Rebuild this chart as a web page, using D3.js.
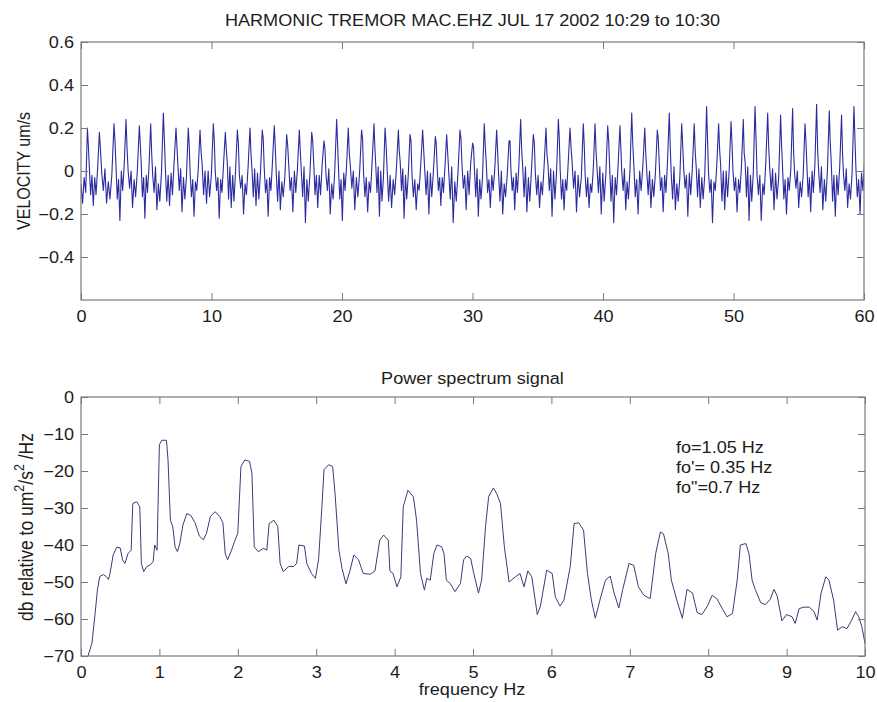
<!DOCTYPE html>
<html>
<head>
<meta charset="utf-8">
<script src="https://cdn.jsdelivr.net/npm/d3@7"></script>
<style>
  html, body { margin: 0; padding: 0; background: #fff; }
  svg text { font-family: "Liberation Sans", Arial, Helvetica, sans-serif; fill: #1c1c1c; }
</style>
</head>
<body>
<svg id="chart" width="877" height="702"></svg>
<script>
// ---- Seismogram: MAC.EHZ vertical velocity, one minute of harmonic tremor ----
// Time of each tremor cycle's crest (s)
const cycleCrest = [0.49, 1.41, 2.53, 3.45, 4.47, 5.34, 6.31, 7.28, 8.22, 9.12,
  10.14, 11.06, 11.98, 12.95, 13.89, 14.81, 15.76, 16.73, 17.68, 18.62,
  19.59, 20.48, 21.5, 22.45, 23.3, 24.32, 25.21, 26.18, 27.15, 28.02,
  29.04, 30.01, 30.9, 31.85, 32.8, 33.69, 34.66, 35.63, 36.58, 37.47,
  38.49, 39.39, 40.36, 41.3, 42.2, 43.2, 44.16, 45.08, 46.03, 46.99,
  47.94, 48.86, 49.81, 50.75, 51.65, 52.62, 53.61, 54.53, 55.48, 56.37,
  57.34, 58.28, 59.23];
// Fraction of a cycle at which each sample of a cycle falls
const cyclePhase = [0, 0.08, 0.16, 0.27, 0.38, 0.49, 0.61, 0.72, 0.85];
// Velocity samples (um/s) per cycle:
// crest, shoulder, knee, first trough, bump, deep trough, bump, dip, upturn
const cycleVel = [
  [0.20, 0.12, 0.02, -0.11, -0.02, -0.16, -0.03, -0.11, 0.01],
  [0.18, 0.09, -0.01, -0.09, 0.01, -0.15, -0.05, -0.13, -0.02],
  [0.22, 0.14, 0.03, -0.13, -0.04, -0.23, 0.00, -0.09, 0.03],
  [0.24, 0.10, 0.00, -0.08, 0.00, -0.17, -0.04, -0.12, 0.00],
  [0.21, 0.13, 0.04, -0.12, -0.03, -0.22, -0.02, -0.10, 0.02],
  [0.22, 0.08, -0.02, -0.10, 0.02, -0.18, -0.06, -0.14, -0.01],
  [0.27, 0.15, 0.01, -0.14, -0.02, -0.16, -0.01, -0.11, 0.04],
  [0.20, 0.11, 0.02, -0.09, 0.01, -0.19, -0.03, -0.13, -0.03],
  [0.20, 0.12, -0.01, -0.12, -0.04, -0.21, -0.05, -0.09, 0.01],
  [0.19, 0.09, 0.03, -0.11, 0.00, -0.15, 0.00, -0.12, -0.02],
  [0.22, 0.14, 0.00, -0.09, -0.03, -0.22, -0.04, -0.10, 0.03],
  [0.18, 0.10, 0.04, -0.13, 0.02, -0.17, -0.02, -0.14, 0.00],
  [0.19, 0.13, -0.02, -0.08, -0.02, -0.20, -0.06, -0.11, 0.02],
  [0.20, 0.08, 0.01, -0.12, 0.01, -0.16, -0.01, -0.13, -0.01],
  [0.19, 0.15, 0.02, -0.10, -0.04, -0.21, -0.03, -0.09, 0.04],
  [0.21, 0.11, -0.01, -0.14, 0.00, -0.18, -0.05, -0.12, -0.03],
  [0.17, 0.12, 0.03, -0.09, -0.03, -0.19, 0.00, -0.10, 0.01],
  [0.19, 0.09, 0.00, -0.12, 0.02, -0.24, -0.04, -0.14, -0.02],
  [0.18, 0.14, 0.04, -0.11, -0.02, -0.17, -0.02, -0.11, 0.03],
  [0.14, 0.10, -0.02, -0.09, 0.01, -0.20, -0.06, -0.13, 0.00],
  [0.24, 0.13, 0.01, -0.13, -0.04, -0.23, -0.01, -0.09, 0.02],
  [0.20, 0.08, 0.02, -0.08, 0.00, -0.18, -0.03, -0.12, -0.01],
  [0.19, 0.15, -0.01, -0.12, -0.03, -0.19, -0.05, -0.10, 0.04],
  [0.22, 0.11, 0.03, -0.10, 0.02, -0.21, 0.00, -0.14, -0.03],
  [0.20, 0.12, 0.00, -0.14, -0.02, -0.17, -0.04, -0.11, 0.01],
  [0.19, 0.09, 0.04, -0.09, 0.01, -0.22, -0.02, -0.13, -0.02],
  [0.17, 0.14, -0.02, -0.12, -0.04, -0.18, -0.06, -0.09, 0.03],
  [0.19, 0.10, 0.01, -0.11, 0.00, -0.20, -0.01, -0.12, 0.00],
  [0.16, 0.13, 0.02, -0.09, -0.03, -0.16, -0.03, -0.10, 0.02],
  [0.17, 0.08, -0.01, -0.13, 0.02, -0.24, -0.05, -0.14, -0.01],
  [0.19, 0.15, 0.03, -0.08, -0.02, -0.18, 0.00, -0.11, 0.04],
  [0.13, 0.11, 0.00, -0.12, 0.01, -0.21, -0.04, -0.13, -0.03],
  [0.22, 0.12, 0.04, -0.10, -0.04, -0.17, -0.02, -0.09, 0.01],
  [0.19, 0.09, -0.02, -0.14, 0.00, -0.20, -0.06, -0.12, -0.02],
  [0.14, 0.14, 0.01, -0.09, -0.03, -0.18, -0.01, -0.10, 0.03],
  [0.24, 0.10, 0.02, -0.12, 0.02, -0.19, -0.03, -0.14, 0.00],
  [0.17, 0.13, -0.01, -0.11, -0.02, -0.17, -0.05, -0.11, 0.02],
  [0.20, 0.08, 0.03, -0.09, 0.01, -0.21, 0.00, -0.13, -0.01],
  [0.24, 0.15, 0.00, -0.13, -0.04, -0.18, -0.04, -0.09, 0.04],
  [0.20, 0.11, 0.04, -0.08, 0.00, -0.19, -0.02, -0.12, -0.03],
  [0.22, 0.12, -0.02, -0.12, -0.03, -0.17, -0.06, -0.10, 0.01],
  [0.22, 0.09, 0.01, -0.10, 0.02, -0.20, -0.01, -0.14, -0.02],
  [0.21, 0.14, 0.02, -0.14, -0.02, -0.24, -0.03, -0.11, 0.03],
  [0.21, 0.10, -0.01, -0.09, 0.01, -0.18, -0.05, -0.13, 0.00],
  [0.27, 0.13, 0.03, -0.12, -0.04, -0.20, 0.00, -0.09, 0.02],
  [0.20, 0.08, 0.00, -0.11, 0.00, -0.17, -0.04, -0.12, -0.01],
  [0.19, 0.15, 0.04, -0.09, -0.03, -0.19, -0.02, -0.10, 0.04],
  [0.27, 0.11, -0.02, -0.13, 0.02, -0.18, -0.06, -0.14, -0.03],
  [0.22, 0.12, 0.01, -0.08, -0.02, -0.21, -0.01, -0.11, 0.01],
  [0.22, 0.09, 0.02, -0.12, 0.01, -0.17, -0.03, -0.13, -0.02],
  [0.30, 0.14, -0.01, -0.10, -0.04, -0.24, -0.05, -0.09, 0.03],
  [0.22, 0.10, 0.03, -0.14, 0.00, -0.18, 0.00, -0.12, 0.00],
  [0.23, 0.13, 0.00, -0.09, -0.03, -0.19, -0.04, -0.10, 0.02],
  [0.24, 0.08, 0.04, -0.12, 0.02, -0.23, -0.02, -0.14, -0.01],
  [0.30, 0.15, -0.02, -0.11, -0.02, -0.23, -0.06, -0.11, 0.04],
  [0.27, 0.11, 0.01, -0.09, 0.01, -0.18, -0.01, -0.13, -0.03],
  [0.26, 0.12, 0.02, -0.13, -0.04, -0.20, -0.03, -0.09, 0.01],
  [0.29, 0.09, -0.01, -0.08, 0.00, -0.17, -0.05, -0.12, -0.02],
  [0.22, 0.14, 0.03, -0.12, -0.03, -0.19, 0.00, -0.10, 0.03],
  [0.31, 0.10, 0.00, -0.10, 0.02, -0.18, -0.04, -0.14, 0.00],
  [0.28, 0.13, 0.04, -0.14, -0.02, -0.21, -0.02, -0.11, 0.02],
  [0.26, 0.08, -0.02, -0.09, 0.01, -0.17, -0.06, -0.13, -0.01],
  [0.30, 0.15, 0.01, -0.12, -0.04, -0.20, -0.01, -0.09, 0.04]
];
// Samples before the first crest
const leadTime = [0, 0.12, 0.24, 0.36];
const leadVel = [-0.06, -0.15, -0.03, -0.10];

const timeTicks = [0, 10, 20, 30, 40, 50, 60];
const velTicks = [-0.4, -0.2, 0, 0.2, 0.4, 0.6];
const velTickLabels = ["\u22120.4", "\u22120.2", "0", "0.2", "0.4", "0.6"];

// ---- Power spectrum of the same record ----
const specFreq = [0.09, 0.14, 0.18, 0.21, 0.24, 0.285, 0.32, 0.35, 0.37, 0.41, 0.455, 0.5, 0.53, 0.56, 0.6, 0.64,
  0.66, 0.71, 0.75, 0.77, 0.8, 0.84, 0.88, 0.92, 0.94, 0.97, 1.0, 1.03, 1.09, 1.11, 1.14, 1.17, 1.2, 1.23,
  1.26, 1.3, 1.35, 1.4, 1.455, 1.51, 1.56, 1.6, 1.65, 1.71, 1.77, 1.81, 1.84, 1.87, 1.92, 1.96, 2.0, 2.04,
  2.09, 2.15, 2.18, 2.21, 2.26, 2.33, 2.37, 2.4, 2.46, 2.51, 2.54, 2.58, 2.65, 2.71, 2.75, 2.78, 2.85, 2.88,
  2.94, 2.99, 3.03, 3.07, 3.1, 3.16, 3.21, 3.24, 3.29, 3.33, 3.38, 3.43, 3.48, 3.54, 3.6, 3.69, 3.75, 3.81,
  3.86, 3.92, 3.94, 3.98, 4.03, 4.08, 4.11, 4.17, 4.24, 4.28, 4.33, 4.38, 4.41, 4.455, 4.5, 4.54, 4.6, 4.63,
  4.66, 4.71, 4.77, 4.84, 4.88, 4.92, 4.97, 5.01, 5.07, 5.11, 5.16, 5.2, 5.26, 5.3, 5.35, 5.4, 5.46, 5.54,
  5.6, 5.65, 5.7, 5.75, 5.82, 5.86, 5.94, 6.01, 6.05, 6.11, 6.16, 6.24, 6.29, 6.35, 6.41, 6.46, 6.51, 6.56,
  6.63, 6.69, 6.75, 6.8, 6.86, 6.91, 6.99, 7.05, 7.11, 7.18, 7.26, 7.33, 7.39, 7.43, 7.49, 7.53, 7.6, 7.67,
  7.73, 7.8, 7.86, 7.92, 7.99, 8.05, 8.11, 8.18, 8.24, 8.31, 8.37, 8.41, 8.48, 8.52, 8.56, 8.6, 8.67, 8.73,
  8.79, 8.84, 8.88, 8.94, 9.0, 9.07, 9.11, 9.16, 9.22, 9.29, 9.35, 9.39, 9.44, 9.5, 9.54, 9.6, 9.65, 9.71,
  9.77, 9.83, 9.88, 9.92, 9.96, 10.0];
const specDb = [-70, -66.5, -58.5, -52, -48.5, -48, -48.5, -49.3, -47.7, -42.7, -40.6, -40.8, -44, -45, -42.3, -41.4,
  -28.8, -28.3, -29.7, -45, -47.2, -45.8, -45.4, -44.5, -40, -41.4, -12.9, -11.7, -11.7, -17, -33.3, -35, -40.5, -41.8,
  -39.6, -34.6, -31.5, -32, -34, -37.6, -38.6, -36.9, -32.3, -31, -32.3, -34, -42.4, -44, -41.4, -39, -36.8, -18.8,
  -17, -17.4, -20.6, -40.5, -41.8, -40.9, -41.4, -34.2, -33.3, -35, -45, -47.2, -45.8, -45.8, -45, -40, -40.3, -45,
  -47.7, -49, -44, -30.6, -19.6, -18.3, -18.8, -26, -41.4, -46.4, -50.5, -47, -42.7, -44, -47.7, -47.9, -47, -38.7,
  -37.3, -38.7, -47, -47.7, -51.3, -48.6, -29.7, -25.2, -27, -33.3, -47.7, -52.2, -49, -49.5, -42.3, -40, -40.5, -42.3,
  -49.5, -50.4, -52.6, -50.4, -44, -43, -43.6, -47.7, -53, -49.5, -35, -26.9, -24.6, -26, -28.7, -40.5, -50, -48.6,
  -47.7, -51.3, -47, -48.6, -58.8, -56.5, -46.8, -47.7, -54, -56.5, -54.9, -45.9, -34.2, -34, -36, -47.7, -54.9, -59.8,
  -54, -49.5, -48.4, -53, -57, -52, -45, -45.5, -51.3, -53.6, -54.5, -42.3, -36.5, -37, -42.3, -49.5, -54.9, -59.8,
  -52, -53, -58.3, -58.8, -56.5, -53.6, -54.5, -57.2, -59.4, -58.5, -49.5, -40, -39.6, -42.3, -49.5, -52, -55.6, -56.1,
  -54.7, -52, -53.8, -60.5, -58.8, -59.4, -61.2, -57.2, -56.8, -56.8, -58, -60.3, -53, -48.6, -49.5, -54.9, -63, -62.1,
  -62.6, -60.3, -58, -59.4, -62.1, -66.6];

const freqTicks = [0, 1, 2, 3, 4, 5, 6, 7, 8, 9, 10];
const dbTicks = [-70, -60, -50, -40, -30, -20, -10, 0];
const noteLines = ["fo=1.05 Hz", "fo'= 0.35 Hz", "fo\"=0.7 Hz"];

// ---------------------------------------------------------------
const svg = d3.select("#chart");
const FONT = 16;         // label size
const WIDEN = 1.13;      // horizontal widening of lettering
const AXIS_GREY = "#7a7a7a";
const TICK = 7;

// widen a text element horizontally around its anchor point
function widen(sel) {
  sel.each(function () {
    const t = d3.select(this);
    const x = +t.attr("x") || 0;
    const prev = t.attr("transform") || "";
    t.attr("transform", `${prev} translate(${x},0) scale(${WIDEN},1) translate(${-x},0)`);
  });
}

function frame(g, x, y, opts) {
  const [x0, x1] = x.range();
  const [y0, y1] = y.range();
  // bottom axis with labels
  const bx = g.append("g").attr("transform", `translate(0,${y0})`)
    .call(d3.axisBottom(x).tickValues(opts.xTicks).tickSizeInner(-TICK).tickSizeOuter(0)
      .tickPadding(10.5).tickFormat(opts.xFormat));
  // top axis, ticks only
  const tx = g.append("g").attr("transform", `translate(0,${y1})`)
    .call(d3.axisTop(x).tickValues(opts.xTicks).tickSizeInner(-TICK).tickSizeOuter(0).tickFormat(""));
  // left axis with labels
  const ly = g.append("g").attr("transform", `translate(${x0},0)`)
    .call(d3.axisLeft(y).tickValues(opts.yTicks).tickSizeInner(-TICK).tickSizeOuter(0)
      .tickPadding(7).tickFormat(opts.yFormat));
  // right axis, ticks only
  const ry = g.append("g").attr("transform", `translate(${x1},0)`)
    .call(d3.axisRight(y).tickValues(opts.yTicks).tickSizeInner(-TICK).tickSizeOuter(0).tickFormat(""));
  [bx, tx, ly, ry].forEach(a => {
    a.select(".domain").remove();
    a.selectAll("line").attr("stroke", AXIS_GREY).attr("stroke-width", 1);
    a.selectAll("text").attr("font-size", FONT).attr("fill", "#1c1c1c");
  });
  bx.selectAll("text").call(widen);
  ly.selectAll("text").attr("dy", "0.34em").call(widen);
  g.append("rect")
    .attr("x", x0).attr("y", y1).attr("width", x1 - x0).attr("height", y0 - y1)
    .attr("fill", "none").attr("stroke", AXIS_GREY).attr("stroke-width", 1.2);
}

// ---- Top panel: velocity trace ----
const xT = d3.scaleLinear().domain([0, 60]).range([81, 864]);
const yV = d3.scaleLinear().domain([-0.6, 0.6]).range([300, 42]);

const trace = leadTime.map((t, i) => [t, leadVel[i]]);
cycleCrest.forEach((tc, i) => {
  const next = i + 1 < cycleCrest.length ? cycleCrest[i + 1] : tc + (tc - cycleCrest[i - 1]);
  const period = next - tc;
  cyclePhase.forEach((p, j) => trace.push([tc + p * period, cycleVel[i][j]]));
});

svg.append("clipPath").attr("id", "clipTop").append("rect")
  .attr("x", xT(0)).attr("y", yV(0.6)).attr("width", xT(60) - xT(0)).attr("height", yV(-0.6) - yV(0.6));

const gTop = svg.append("g");
gTop.append("path")
  .datum(trace)
  .attr("clip-path", "url(#clipTop)")
  .attr("fill", "none")
  .attr("stroke", "#2b2ba0")
  .attr("stroke-width", 1.1)
  .attr("stroke-linejoin", "round")
  .attr("d", d3.line().x(d => xT(d[0])).y(d => yV(d[1])));

frame(gTop, xT, yV, {
  xTicks: timeTicks, xFormat: d3.format("d"),
  yTicks: velTicks, yFormat: d => velTickLabels[velTicks.indexOf(d)]
});

svg.append("text").attr("x", 472.5).attr("y", 26).attr("text-anchor", "middle")
  .attr("font-size", FONT).text("HARMONIC TREMOR MAC.EHZ JUL 17 2002 10:29 to 10:30").call(widen);

svg.append("text")
  .attr("transform", `translate(30,171) scale(${WIDEN},1) rotate(-90)`)
  .attr("text-anchor", "middle").attr("font-size", FONT)
  .text("VELOCITY um/s");

// ---- Bottom panel: power spectrum ----
const xF = d3.scaleLinear().domain([0, 10]).range([81, 865]);
const yD = d3.scaleLinear().domain([-70, 0]).range([656, 397]);

const spectrum = specFreq.map((f, i) => [f, specDb[i]]);
const gBot = svg.append("g");
gBot.append("path")
  .datum(spectrum)
  .attr("fill", "none")
  .attr("stroke", "#3b3b78")
  .attr("stroke-width", 1)
  .attr("stroke-linejoin", "round")
  .attr("d", d3.line().x(d => xF(d[0])).y(d => yD(d[1])));

frame(gBot, xF, yD, {
  xTicks: freqTicks, xFormat: d3.format("d"),
  yTicks: dbTicks, yFormat: d => d3.format("d")(d).replace("-", "\u2212")
});

svg.append("text").attr("x", 472.5).attr("y", 384).attr("text-anchor", "middle")
  .attr("font-size", FONT).text("Power spectrum signal").call(widen);

svg.append("text").attr("x", 472).attr("y", 695).attr("text-anchor", "middle")
  .attr("font-size", FONT).text("frequency Hz").call(widen);

const yl = svg.append("text")
  .attr("transform", `translate(33,527) scale(${WIDEN},1) rotate(-90)`)
  .attr("text-anchor", "middle").attr("font-size", 17.5);
yl.append("tspan").text("db relative to um");
yl.append("tspan").attr("dy", -8).attr("font-size", 12.5).text("2");
yl.append("tspan").attr("dy", 8).text("/s");
yl.append("tspan").attr("dy", -8).attr("font-size", 12.5).text("2");
yl.append("tspan").attr("dy", 8).text(" /Hz");

const note = svg.append("g");
noteLines.forEach((s, i) => {
  note.append("text").attr("x", 676).attr("y", 453 + i * 20)
    .attr("font-size", FONT).text(s).call(widen);
});
</script>
</body>
</html>
